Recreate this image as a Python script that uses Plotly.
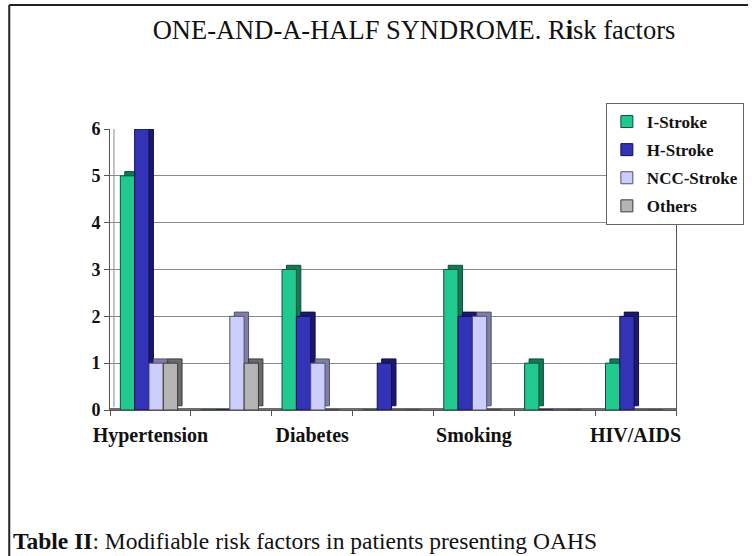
import plotly.graph_objects as go

# ---- data ----
category_pos = [0, 1, 2, 3, 4, 5, 6]
tick_positions = [0, 2, 4, 6]
tick_labels = ["Hypertension", "Diabetes", "Smoking", "HIV/AIDS"]
series_names = ["I-Stroke", "H-Stroke", "NCC-Stroke", "Others"]
i_stroke = [5, 0, 3, 0, 3, 1, 1]
h_stroke = [6, 0, 2, 1, 2, 0, 2]
ncc_stroke = [1, 2, 1, 0, 2, 0, 0]
others = [1, 1, 0, 0, 0, 0, 0]
y_ticks = [0, 1, 2, 3, 4, 5, 6]

colors = ["#21c98f", "#3333b8", "#cdcdfb", "#b4b4b4"]
side_colors = ["#0f7a55", "#191970", "#7f7fa6", "#6a6a6a"]
line_colors = ["#0b4f37", "#10104a", "#50506e", "#3a3a3a"]

SERIF = "Liberation Serif, Times New Roman, serif"

# 3D-look styling (in axis units)
BAR_W = 0.177
START = -0.372
DEPTH_X = 0.055
DEPTH_Y = 0.09

fig = go.Figure()
for k, (name, vals) in enumerate(zip(series_names, [i_stroke, h_stroke, ncc_stroke, others])):
    xs = [c for c, v in zip(category_pos, vals) if v > 0]
    vs = [v for v in vals if v > 0]
    # side / top face
    fig.add_trace(go.Bar(
        x=xs, y=vs, base=[DEPTH_Y] * len(vs), width=BAR_W, offset=START + k * BAR_W + DEPTH_X,
        marker=dict(color=side_colors[k], line=dict(color=line_colors[k], width=1)),
        showlegend=False, hoverinfo="skip", legendgroup=name,
    ))
    # front face
    fig.add_trace(go.Bar(
        x=category_pos, y=vals, name=name, legendgroup=name,
        width=BAR_W, offset=START + k * BAR_W,
        marker=dict(color=colors[k], line=dict(color=line_colors[k], width=1)),
    ))

# plot area pixel geometry
L, R, T, B = 110, 73, 129, 146
W = 756 - L - R
H = 556 - T - B

def px_x(p):
    return (p - L) / W

def px_y(p):
    return (556 - B - p) / H

shapes = [
    # floor strip
    dict(type="line", xref="paper", yref="y", x0=0, x1=1, y0=0, y1=0,
         line=dict(color="#6e6e6e", width=4), layer="below"),
    # back wall inner edge
    dict(type="line", xref="paper", yref="paper", x0=px_x(114), x1=px_x(114),
         y0=0.01, y1=1, line=dict(color="#8a8a8a", width=1), layer="below"),
    # outer border (left and top)
    dict(type="line", xref="paper", yref="paper", x0=px_x(8), x1=px_x(8),
         y0=px_y(5), y1=px_y(556), line=dict(color="#222222", width=2)),
    dict(type="line", xref="paper", yref="paper", x0=px_x(8), x1=px_x(756),
         y0=px_y(5), y1=px_y(5), line=dict(color="#222222", width=2)),
]

fig.update_layout(
    width=756, height=556,
    margin=dict(l=L, r=R, t=T, b=B),
    paper_bgcolor="white", plot_bgcolor="white",
    barmode="overlay",
    title=dict(text="ONE-AND-A-HALF SYNDROME. R<b>i</b>sk factors",
               x=414 / 756, xanchor="center", y=1 - 30 / 556, yanchor="middle",
               font=dict(family=SERIF, size=26.5, color="#111111")),
    font=dict(family=SERIF, color="#111111"),
    legend=dict(x=px_x(612), y=px_y(103), xanchor="left", yanchor="top",
                bgcolor="white", bordercolor="#666666", borderwidth=1,
                font=dict(family=SERIF, size=17, color="#111111", weight="bold"),
                traceorder="grouped", tracegroupgap=3, itemwidth=30),
    shapes=shapes,
    annotations=[dict(text="<b>Table II</b>: Modifiable risk factors in patients presenting OAHS",
                      xref="paper", yref="paper", x=px_x(10), y=px_y(541),
                      xanchor="left", yanchor="middle", showarrow=False,
                      font=dict(family=SERIF, size=23.5, color="#111111"))],
    showlegend=True,
)

fig.update_xaxes(
    range=[-0.5, 6.5], tickmode="array", tickvals=tick_positions, ticktext=tick_labels,
    ticks="", showgrid=False, zeroline=False,
    showline=True, linecolor="#555555", linewidth=1,
    tickfont=dict(family=SERIF, size=20, color="#111111", weight="bold"),
    ticklabelstandoff=7,
    minor=dict(tickmode="linear", tick0=0.5, dtick=1, ticks="outside", ticklen=5,
               tickcolor="#555555", showgrid=False),
)
fig.update_yaxes(
    range=[0, 6], tickmode="array", tickvals=y_ticks,
    ticks="outside", ticklen=5, tickcolor="#555555",
    showgrid=True, gridcolor="#8a8a8a", gridwidth=1, zeroline=False,
    showline=True, linecolor="#555555", linewidth=1, mirror=True,
    tickfont=dict(family=SERIF, size=18, color="#111111", weight="bold"),
)

fig.write_html("out.html", config={"displayModeBar": False},
               post_script="document.body.style.margin='0';document.body.style.overflow='hidden';")
